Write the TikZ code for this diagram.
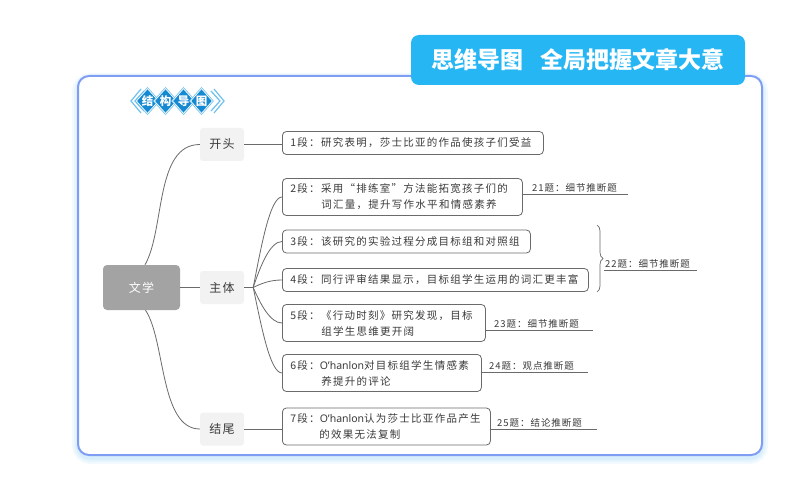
\documentclass[tikz,border=0pt]{standalone}
\usepackage{fontspec}
\usetikzlibrary{calc,decorations.pathreplacing,shapes.geometric}
\newfontfamily\cjk{Noto Sans CJK SC}
\newfontfamily\cjkbox[LetterSpace=12]{Noto Sans CJK SC}
\newfontfamily\cjklab[LetterSpace=10]{Noto Sans CJK SC}
\newfontfamily\lat{Noto Sans}
\newcommand{\ohan}{{\lat O’hanlon}}
\definecolor{framec}{HTML}{7F9EF3}
\definecolor{bannerc}{HTML}{27B6F4}
\definecolor{txt}{HTML}{3A3A3A}
\definecolor{linec}{HTML}{6A6A6A}
\definecolor{diac}{HTML}{1689D3}
\definecolor{chevc}{HTML}{6EC1EE}
\definecolor{glowc}{HTML}{BFE2FA}
\definecolor{rootc}{HTML}{A3A3A3}
\definecolor{branchc}{HTML}{F2F2F2}
\tikzset{
  conn/.style={draw=linec, line width=0.8pt},
  parabox/.style={draw=linec, line width=0.8pt, rounded corners=4pt, fill=white,
    font=\cjkbox\fontsize{10.5}{16}\selectfont, text=txt, align=left,
    anchor=west, inner xsep=8pt, inner ysep=3pt},
  onebox/.style={parabox, minimum height=23pt},
  twobox/.style={parabox, minimum height=37pt},
  branch/.style={fill=branchc, rounded corners=3pt, minimum width=44pt, minimum height=33pt,
    inner sep=0pt, font=\cjkbox\fontsize{12}{14}\selectfont, text=txt},
  rootbox/.style={fill=rootc, rounded corners=4pt, minimum width=77pt, minimum height=45pt,
    inner sep=0pt, font=\cjkbox\fontsize{12}{14}\selectfont, text=white},
  qlab/.style={anchor=south west, inner xsep=1pt, inner ysep=1.5pt,
    font=\cjklab\fontsize{9.5}{11}\selectfont, text=txt},
  dia/.style={diamond, fill=diac, draw=white, line width=0.7pt,
    preaction={draw=chevc, line width=2.2pt},
    minimum width=22pt, minimum height=25pt, inner sep=0pt,
    font=\cjk\bfseries\fontsize{11.5}{12}\selectfont, text=white},
  chev/.style={draw=chevc, line width=1.2pt}
}
\begin{document}
\begin{tikzpicture}[x=1pt,y=-1pt]
\useasboundingbox (0,0) rectangle (800,481);
% frame with glow
\foreach \w/\o in {12/0.18,8/0.25,4/0.35}
  \draw[glowc, line width=\w pt, opacity=\o, rounded corners=12pt] (78,79) rectangle (762,458);
\draw[framec, line width=2pt, fill=white, rounded corners=11pt] (78,76) rectangle (762,455);
% title banner
\node[fill=bannerc, rounded corners=8pt, minimum width=334pt, minimum height=50pt, inner sep=0pt,
  text=white, font=\cjk\bfseries\fontsize{23}{26}\selectfont] (ttl) at (578,60)
  {思维导图\hspace{18pt}全局把握文章大意};
% badge
\draw[chev] (141,89) -- (131,101) -- (141,113);
\draw[chev] (144,91) -- (135,101) -- (144,111);
\draw[chev] (211,91) -- (220,101) -- (211,111);
\draw[chev] (214,89) -- (224,101) -- (214,113);
\node[dia] (d1) at (147.5,101) {结};
\node[dia] (d2) at (165.5,101) {构};
\node[dia] (d3) at (183.5,101) {导};
\node[dia] (d4) at (201.5,101) {图};
% root and branches
\node[rootbox] (root) at (141.5,287.5) {文学};
\node[branch] (kt) at (222,144.5) {开头};
\node[branch] (zt) at (222,287.5) {主体};
\node[branch] (jw) at (222,429) {结尾};
% paragraph boxes
\node[onebox, text width=245pt] (b1) at (282,143) {1段：研究表明，莎士比亚的作品使孩子们受益};
\node[twobox, text width=224pt] (b2) at (282,197) {2段：采用“排练室”方法能拓宽孩子们的\\\hspace*{31pt}词汇量，提升写作水平和情感素养};
\node[onebox, text width=232pt] (b3) at (282,241.5) {3段：该研究的实验过程分成目标组和对照组};
\node[onebox, text width=290pt] (b4) at (282,280) {4段：同行评审结果显示，目标组学生运用的词汇更丰富};
\node[twobox, text width=187pt] (b5) at (282,323) {5段：《行动时刻》研究发现，目标\\\hspace*{31pt}组学生思维更开阔};
\node[twobox, text width=183pt] (b6) at (282,373) {6段：\ohan 对目标组学生情感素\\\hspace*{31pt}养提升的评论};
\node[twobox, text width=192pt] (b7) at (282,426.5) {7段：\ohan 认为莎士比亚作品产生\\\hspace*{29pt}的效果无法复制};
% connectors root -> branches
\draw[conn] ($(root.north)+(3.5,0)$) .. controls +(20,-35) and +(-45,0) .. (kt.west);
\draw[conn] ($(root.south)+(4,0)$) .. controls +(20,30) and +(-40,0) .. (jw.west);
\draw[conn] (root.east) -- (zt.west);
\draw[conn] (kt.east) -- (kt.east -| b1.west);
\draw[conn] (jw.east) -- (jw.east -| b7.west);
\coordinate (hub) at ($(zt.east)+(9,0)$);
\draw[conn] (zt.east) -- (hub);
\draw[conn] (hub) .. controls +(8,-41) and +(-12,0) .. (b2.west);
\draw[conn] (hub) .. controls +(7,-21) and +(-12,0) .. (b3.west);
\draw[conn] (hub) .. controls +(8,-4) and +(-12,0) .. (b4.west);
\draw[conn] (hub) .. controls +(7,16) and +(-12,0) .. (b5.west);
\draw[conn] (hub) .. controls +(8,38) and +(-12,0) .. (b6.west);
% question labels
\node[qlab] (l21) at (531,194) {21题：细节推断题};
\coordinate (u21) at (628,194);
\draw[conn] (b2.east |- u21) -- (u21);
\coordinate (brT) at (597,225);
\coordinate (brB) at (597,292);
\draw[linec, line width=0.7pt, decorate, decoration={brace, amplitude=6pt}] (brT) -- (brB);
\node[qlab] (l22) at (604,270) {22题：细节推断题};
\coordinate (u22) at (697,270);
\draw[conn] (l22.south west) -- (u22);
\node[qlab] (l23) at (493,330) {23题：细节推断题};
\coordinate (u23) at (593,330);
\draw[conn] (b5.east |- u23) -- (u23);
\node[qlab] (l24) at (488,372) {24题：观点推断题};
\coordinate (u24) at (588,372);
\draw[conn] (b6.east |- u24) -- (u24);
\node[qlab] (l25) at (496,429) {25题：结论推断题};
\coordinate (u25) at (597,429);
\draw[conn] (b7.east |- u25) -- (u25);
\end{tikzpicture}
\end{document}
